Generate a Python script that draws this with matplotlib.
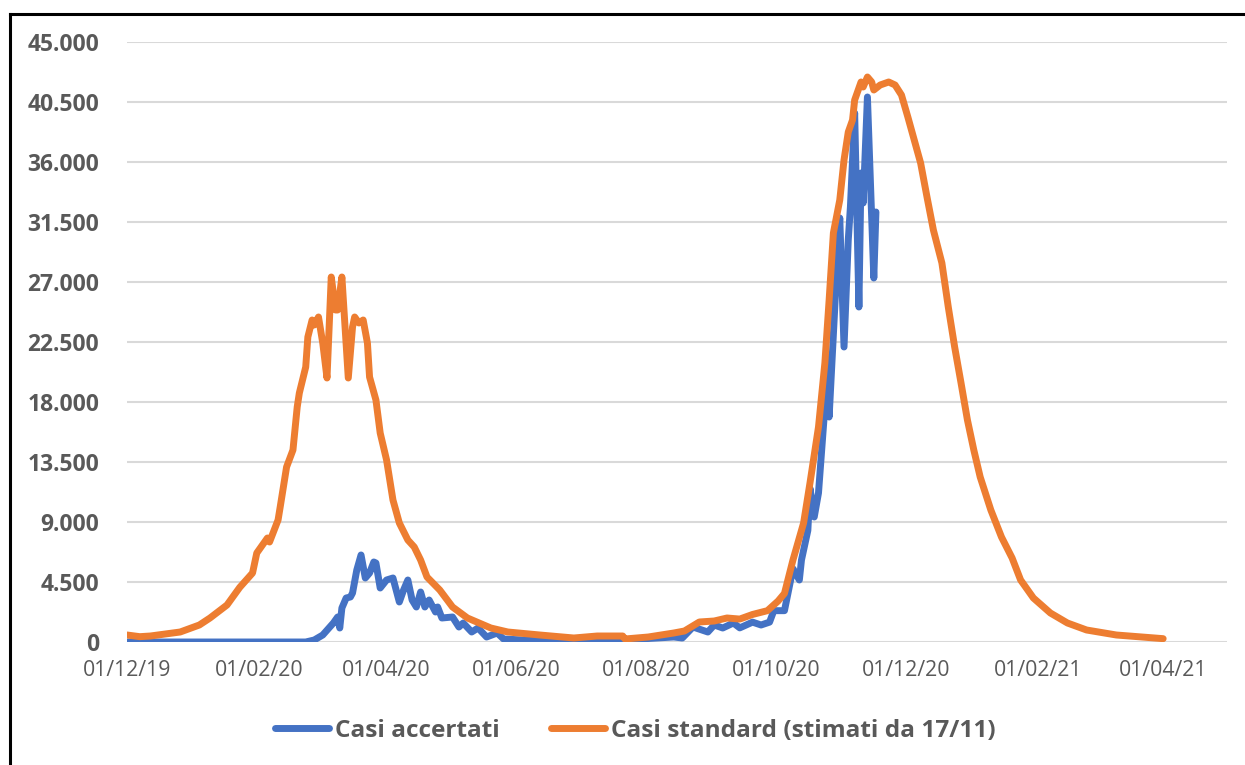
import matplotlib
matplotlib.use("Agg")
import matplotlib.pyplot as plt
import matplotlib.dates as mdates
from matplotlib.lines import Line2D
from matplotlib.ticker import FuncFormatter
import pandas as pd

# Casi accertati (dati giornalieri)
date_accertati = [
    "2019-12-01", "2020-02-23", "2020-02-27", "2020-03-02", "2020-03-07", "2020-03-09",
    "2020-03-10", "2020-03-11", "2020-03-13", "2020-03-15", "2020-03-16", "2020-03-18",
    "2020-03-20", "2020-03-22", "2020-03-24", "2020-03-26", "2020-03-27", "2020-03-29",
    "2020-04-01", "2020-04-04", "2020-04-07", "2020-04-09", "2020-04-11", "2020-04-13",
    "2020-04-15", "2020-04-17", "2020-04-19", "2020-04-21", "2020-04-24", "2020-04-25",
    "2020-04-27", "2020-05-02", "2020-05-05", "2020-05-07", "2020-05-11", "2020-05-14",
    "2020-05-18", "2020-05-23", "2020-05-26", "2020-06-04", "2020-06-12", "2020-06-28",
    "2020-07-21", "2020-08-06", "2020-08-14", "2020-08-18", "2020-08-23", "2020-08-30",
    "2020-09-02", "2020-09-06", "2020-09-11", "2020-09-14", "2020-09-20", "2020-09-24",
    "2020-09-28", "2020-09-30", "2020-10-05", "2020-10-09", "2020-10-12", "2020-10-13",
    "2020-10-16", "2020-10-17", "2020-10-19", "2020-10-21", "2020-10-24", "2020-10-25",
    "2020-10-26", "2020-10-29", "2020-10-31", "2020-11-02", "2020-11-04", "2020-11-05",
    "2020-11-07", "2020-11-09", "2020-11-10", "2020-11-11", "2020-11-13", "2020-11-16",
    "2020-11-17",
]
casi_accertati = [
    0, 0, 150, 525, 1425, 1875,
    1050, 2550, 3300, 3375, 3675, 5400,
    6525, 4800, 5175, 6000, 5925, 4050,
    4650, 4800, 3000, 3900, 4650, 3150,
    2625, 3750, 2625, 3150, 2250, 2625,
    1800, 1875, 1125, 1425, 750, 1050,
    375, 675, 225, 150, 150, 150,
    150, 300, 375, 300, 1125, 750,
    1275, 1050, 1425, 1060, 1490, 1275,
    1490, 2350, 2350, 5500, 4650, 6150,
    8370, 11530, 9375, 11175, 17625, 21375,
    16875, 26175, 31800, 22125, 30170, 32625,
    39675, 25125, 35175, 32925, 40875, 27300,
    32250,
]

# Casi standard (stimati da 17/11)
date_standard = [
    "2019-12-01", "2019-12-07", "2019-12-12", "2019-12-19", "2019-12-26", "2020-01-04",
    "2020-01-09", "2020-01-17", "2020-01-23", "2020-01-29", "2020-01-31", "2020-02-05",
    "2020-02-06", "2020-02-10", "2020-02-11", "2020-02-14", "2020-02-17", "2020-02-19",
    "2020-02-20", "2020-02-23", "2020-02-24", "2020-02-26", "2020-02-27", "2020-02-29",
    "2020-03-02", "2020-03-04", "2020-03-06", "2020-03-08", "2020-03-09", "2020-03-11",
    "2020-03-14", "2020-03-16", "2020-03-17", "2020-03-19", "2020-03-21", "2020-03-23",
    "2020-03-24", "2020-03-27", "2020-03-29", "2020-04-01", "2020-04-04", "2020-04-07",
    "2020-04-11", "2020-04-14", "2020-04-17", "2020-04-20", "2020-04-26", "2020-05-02",
    "2020-05-09", "2020-05-20", "2020-05-28", "2020-06-12", "2020-06-28", "2020-07-09",
    "2020-07-21", "2020-07-22", "2020-08-02", "2020-08-14", "2020-08-19", "2020-08-26",
    "2020-09-02", "2020-09-08", "2020-09-14", "2020-09-20", "2020-09-27", "2020-10-02",
    "2020-10-05", "2020-10-09", "2020-10-14", "2020-10-17", "2020-10-21", "2020-10-24",
    "2020-10-26", "2020-10-28", "2020-10-31", "2020-11-02", "2020-11-04", "2020-11-06",
    "2020-11-07", "2020-11-10", "2020-11-11", "2020-11-13", "2020-11-15", "2020-11-16",
    "2020-11-19", "2020-11-23", "2020-11-26", "2020-11-29", "2020-12-02", "2020-12-05",
    "2020-12-08", "2020-12-11", "2020-12-14", "2020-12-18", "2020-12-21", "2020-12-24",
    "2020-12-27", "2020-12-30", "2021-01-02", "2021-01-05", "2021-01-10", "2021-01-15",
    "2021-01-20", "2021-01-24", "2021-01-30", "2021-02-07", "2021-02-15", "2021-02-24",
    "2021-03-10", "2021-04-01",
]
casi_standard = [
    525, 400, 450, 600, 750, 1275,
    1800, 2775, 4100, 5175, 6675, 7800,
    7500, 9150, 10125, 13125, 14400, 17625,
    18675, 20625, 22875, 24150, 23775, 24375,
    22425, 19800, 27375, 24900, 24900, 27375,
    19800, 23625, 24375, 23925, 24150, 22425,
    19875, 18150, 15675, 13650, 10650, 8925,
    7650, 7125, 6150, 4875, 3900, 2625,
    1800, 1050, 750, 525, 300, 450,
    450, 225, 375, 675, 825, 1500,
    1575, 1800, 1720, 2065, 2350, 3070,
    3640, 6150, 8925, 11925, 16125, 20925,
    25650, 30675, 33150, 36150, 38250, 39150,
    40650, 42000, 41625, 42375, 42000, 41400,
    41775, 42000, 41775, 41025, 39375, 37650,
    35925, 33375, 30900, 28425, 25125, 22125,
    19425, 16650, 14400, 12375, 9900, 7875,
    6300, 4650, 3300, 2175, 1425, 900,
    525, 250,
]

tick_date = ["2019-12-01", "2020-02-01", "2020-04-01", "2020-06-01", "2020-08-01",
             "2020-10-01", "2020-12-01", "2021-02-01", "2021-04-01"]
tick_y = list(range(0, 45001, 4500))

blu = "#4472C4"
arancio = "#ED7D31"
grigio = "#595959"

plt.rcParams["font.family"] = ["Open Sans", "DejaVu Sans"]

W, H = 1245, 765
fig = plt.figure(figsize=(W / 100, H / 100), dpi=100)
ax = fig.add_axes([127 / W, 1 - 642 / H, 1100 / W, 600 / H])

ax.plot(pd.to_datetime(date_accertati), casi_accertati, color=blu, lw=5,
        solid_joinstyle="round", solid_capstyle="round", label="Casi accertati", zorder=3)
ax.plot(pd.to_datetime(date_standard), casi_standard, color=arancio, lw=5,
        solid_joinstyle="round", solid_capstyle="round",
        label="Casi standard (stimati da 17/11)", zorder=4)

ax.set_xlim(pd.Timestamp("2019-12-01"), pd.Timestamp("2021-05-01"))
ax.set_ylim(0, 45000)
ax.set_yticks(tick_y)
ax.yaxis.set_major_formatter(FuncFormatter(lambda v, p: f"{int(v):,}".replace(",", ".")))
ax.set_xticks(pd.to_datetime(tick_date))
ax.xaxis.set_major_formatter(mdates.DateFormatter("%d/%m/%y"))

ax.grid(axis="y", color="#D9D9D9", lw=1.5)
ax.set_axisbelow(True)
for s in ax.spines.values():
    s.set_visible(False)
ax.tick_params(length=0)
ax.tick_params(axis="y", pad=20, labelsize=16.5, labelcolor=grigio)
ax.tick_params(axis="x", pad=13, labelsize=15.3, labelcolor=grigio)
for t in ax.get_yticklabels():
    t.set_fontweight("bold")

# cornice del grafico (visibile solo a sinistra e in alto)
fig.add_artist(Line2D([10 / W, 10 / W], [0, 1 - 14 / H], color="black", lw=2.2,
                      transform=fig.transFigure))
fig.add_artist(Line2D([10 / W, 1], [1 - 14 / H, 1 - 14 / H], color="black", lw=2.2,
                      transform=fig.transFigure))

leg = fig.legend(loc="center", bbox_to_anchor=(635 / W, 1 - 731 / H), ncol=2,
                 frameon=False, prop={"size": 17.6, "weight": "bold"},
                 handlelength=2.2, handletextpad=0.25, columnspacing=2.1)
for t in leg.get_texts():
    t.set_color(grigio)

fig.savefig("out.png", dpi=100)
